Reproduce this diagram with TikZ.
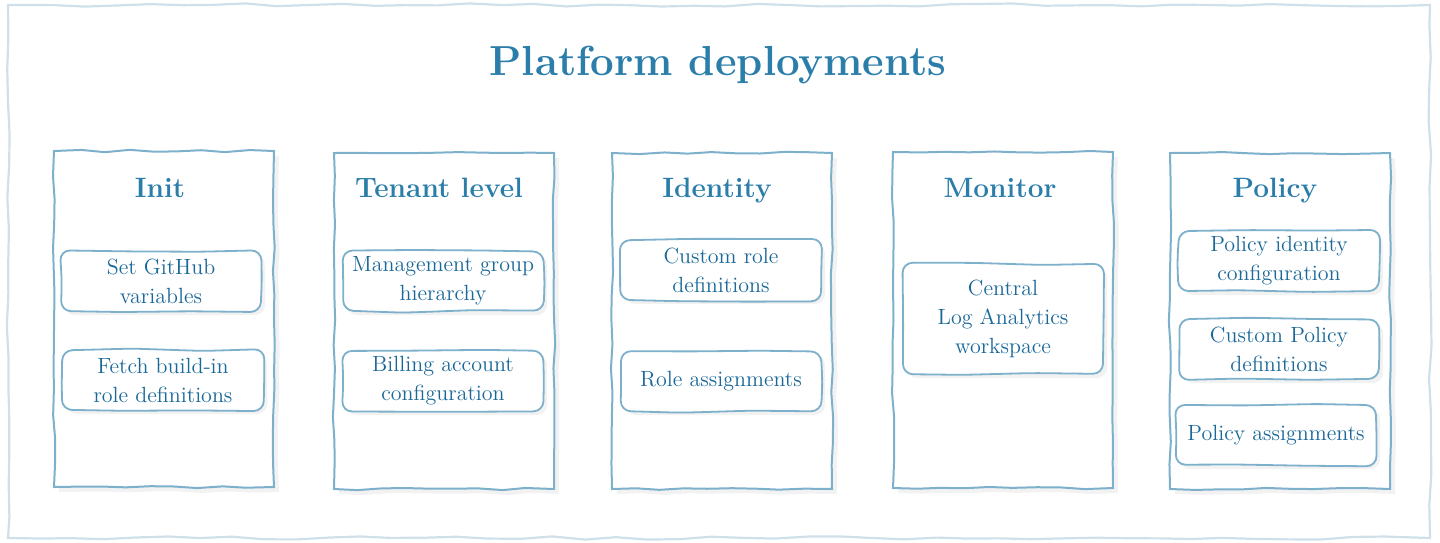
\documentclass[tikz,border=0pt]{standalone}
\usetikzlibrary{decorations.pathmorphing,shadows,calc}
\definecolor{titleblue}{HTML}{2B7DAA}
\definecolor{textblue}{HTML}{1A6898}
\definecolor{edgeblue}{HTML}{7DB0CB}
\definecolor{outerblue}{HTML}{CFE0EA}
\pgfmathsetseed{7}
\newcommand\skrect[1]{%
  \draw[tbline] ($(#1.north west)+(rand*0.5pt,rand*0.5pt)$)
    -- ($(#1.north west)!0.35!(#1.north east)+(0,rand*0.7pt)$)
    -- ($(#1.north west)!0.7!(#1.north east)+(0,rand*0.7pt)$)
    -- ($(#1.north east)+(rand*0.5pt,rand*0.5pt)$)
    -- ($(#1.north east)!0.5!(#1.south east)+(rand*0.7pt,0)$)
    -- ($(#1.south east)+(rand*0.5pt,rand*0.5pt)$)
    -- ($(#1.south east)!0.35!(#1.south west)+(0,rand*0.7pt)$)
    -- ($(#1.south east)!0.7!(#1.south west)+(0,rand*0.7pt)$)
    -- ($(#1.south west)+(rand*0.5pt,rand*0.5pt)$)
    -- ($(#1.south west)!0.5!(#1.north west)+(rand*0.7pt,0)$)
    -- cycle;}
\begin{document}
\begin{tikzpicture}[x=0.5pt,y=-0.5pt,
  sketch/.style={decorate,decoration={random steps,segment length=12pt,amplitude=0.6pt}},
  frame/.style={draw=outerblue,line width=1.1pt,decorate,decoration={random steps,segment length=16pt,amplitude=0.8pt}},
  colbox/.style={draw=edgeblue,line width=1pt,sketch,fill=white,anchor=north west,
    minimum width=110pt,minimum height=168pt,inner sep=0pt,
    drop shadow={opacity=0.10,shadow xshift=2.5pt,shadow yshift=-2.5pt}},
  coltitle/.style={text=titleblue,anchor=base,font=\fontsize{14}{17}\selectfont\bfseries},
  mainttl/.style={text=titleblue,anchor=base,font=\fontsize{21}{25}\selectfont\bfseries},
  taskbox/.style={fill=white,rounded corners=5pt,
    minimum width=100pt,minimum height=30pt,inner sep=0pt,align=center,
    text=textblue,font=\fontsize{11}{14.5}\selectfont,
    drop shadow={opacity=0.10,shadow xshift=2pt,shadow yshift=-2pt}},
  tbline/.style={draw=edgeblue,line width=0.9pt,rounded corners=5pt}
]
\useasboundingbox (0,0) rectangle (1440,542);
\draw[frame] (8,5) rectangle (1430,538);
\node[mainttl] (title) at (718,75) {Platform deployments};

% columns
\node[colbox] (c1) at (53,150) {};
\node[colbox] (c2) at (333,152) {};
\node[colbox] (c3) at (611,152) {};
\node[colbox] (c4) at (892,151) {};
\node[colbox] (c5) at (1169,152) {};

\node[coltitle] (t1) at (160,197) {Init};
\node[coltitle] (t2) at (439,197) {Tenant level};
\node[coltitle] (t3) at (717,197) {Identity};
\node[coltitle] (t4) at (1000,197) {Monitor};
\node[coltitle] (t5) at (1275,197) {Policy};

% Init
\node[taskbox] (b11) at (161,281) {Set GitHub\\variables};
\node[taskbox] (b12) at (163,380) {Fetch build-in\\role definitions};
% Tenant level
\node[taskbox] (b21) at (443,281) {Management group\\hierarchy};
\node[taskbox] (b22) at (443,381) {Billing account\\configuration};
% Identity
\node[taskbox] (b31) at (721,270) {Custom role\\definitions};
\node[taskbox] (b32) at (721,381) {Role assignments};
% Monitor
\node[taskbox,minimum height=55pt] (b41) at (1003,319) {Central\\Log Analytics\\workspace};
% Policy
\node[taskbox] (b51) at (1279,261) {Policy identity\\configuration};
\node[taskbox] (b52) at (1279,349) {Custom Policy\\definitions};
\node[taskbox] (b53) at (1276,435) {Policy assignments};

\foreach \b in {b11,b12,b21,b22,b31,b32,b41,b51,b52,b53} {\skrect{\b}}
\end{tikzpicture}
\end{document}
